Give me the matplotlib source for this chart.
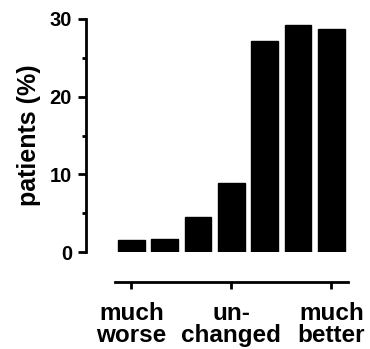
import matplotlib
matplotlib.use("Agg")
import matplotlib.pyplot as plt
from matplotlib.ticker import MultipleLocator

values = [1.5, 1.7, 4.5, 8.9, 27.2, 29.2, 28.7]
tick_positions = [0, 3, 6]
tick_labels = ["much\nworse", "un-\nchanged", "much\nbetter"]
yticks = [0, 10, 20, 30]

plt.rcParams['font.family'] = ['Liberation Sans', 'DejaVu Sans']
plt.rcParams['font.weight'] = 'bold'

fig = plt.figure(figsize=(3.70, 3.49), dpi=100)
ax = fig.add_axes([86/370, (349-252)/349, (348-86)/370, (252-19)/349])

x = list(range(len(values)))
ax.bar(x, values, width=0.8, color='black', edgecolor='black', linewidth=1)

ax.set_xlim(-1.365, 6.5)
ax.set_ylim(0, 30)

for s in ['top', 'right']:
    ax.spines[s].set_visible(False)
ax.spines['left'].set_linewidth(2)
ax.spines['bottom'].set_linewidth(2)
ax.spines['left'].set_bounds(0, 30)
ax.spines['bottom'].set_bounds(-0.5, 6.5)
ax.spines['bottom'].set_position(('outward', 21.6))

ax.set_yticks(yticks)
ax.yaxis.set_minor_locator(MultipleLocator(5))
ax.set_xticks(tick_positions)
ax.set_xticklabels(tick_labels, fontsize=17.5, fontweight='bold', linespacing=0.92)
ax.tick_params(axis='y', which='major', length=6, width=2, pad=4, labelsize=14.5)
ax.tick_params(axis='y', which='minor', length=3, width=2)
ax.tick_params(axis='x', which='major', length=5, width=2, pad=9.5)
for t in ax.get_yticklabels():
    t.set_fontweight('bold')

ax.set_ylabel("patients (%)", fontsize=18, fontweight='bold', labelpad=6)

fig.savefig("out.png", dpi=100)
